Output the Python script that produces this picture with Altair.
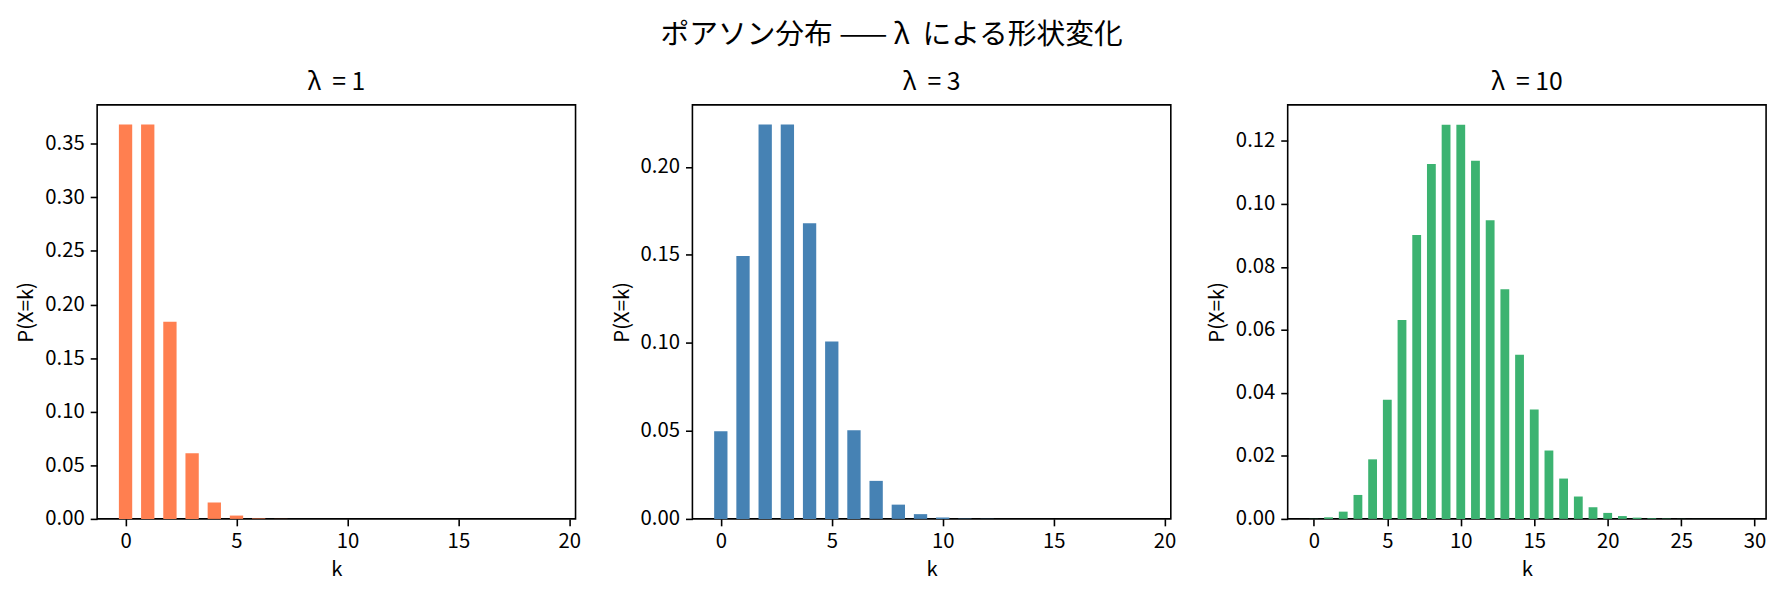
import altair as alt
import pandas as pd

# ---- data ----
k_20 = list(range(20))
k_30 = list(range(30))

p_lam1 = [0.3679, 0.3679, 0.1839, 0.0613, 0.0153, 0.0031, 0.0005, 0.0001,
          0.0, 0.0, 0.0, 0.0, 0.0, 0.0, 0.0, 0.0, 0.0, 0.0, 0.0, 0.0]
p_lam3 = [0.0498, 0.1494, 0.2240, 0.2240, 0.1680, 0.1008, 0.0504, 0.0216,
          0.0081, 0.0027, 0.0008, 0.0002, 0.0001, 0.0, 0.0, 0.0, 0.0, 0.0, 0.0, 0.0]
p_lam10 = [0.00005, 0.0005, 0.0023, 0.0076, 0.0189, 0.0378, 0.0631, 0.0901,
           0.1126, 0.1251, 0.1251, 0.1137, 0.0948, 0.0729, 0.0521, 0.0347,
           0.0217, 0.0128, 0.0071, 0.0037, 0.0019, 0.0009, 0.0004, 0.0002,
           0.0001, 0.00003, 0.00001, 0.0, 0.0, 0.0]

titles = ["λ\u00a0 = 1", "λ\u00a0 = 3", "λ\u00a0 = 10"]
colors = ["#FF7F50", "#4682B4", "#3CB371"]
x_domains = [[-1.28, 20.28], [-1.28, 20.28], [-1.78, 30.78]]
x_ticks = [[0, 5, 10, 15, 20], [0, 5, 10, 15, 20], [0, 5, 10, 15, 20, 25, 30]]
y_domains = [[0, 0.3863], [0, 0.2352], [0, 0.1314]]
y_ticks = [[0, 0.05, 0.10, 0.15, 0.20, 0.25, 0.30, 0.35],
           [0, 0.05, 0.10, 0.15, 0.20],
           [0, 0.02, 0.04, 0.06, 0.08, 0.10, 0.12]]

FONT = "Noto Sans CJK JP"
W, H = 483, 418

panels = []
for ks, ps, t, c, xd, xt, yd, yt in zip(
        [k_20, k_20, k_30], [p_lam1, p_lam3, p_lam10], titles, colors,
        x_domains, x_ticks, y_domains, y_ticks):
    df = pd.DataFrame({"k": ks, "p": ps})
    ch = alt.Chart(df).transform_calculate(
        k0="datum.k - 0.3", k1="datum.k + 0.3", base="0"
    ).mark_bar(color=c).encode(
        x=alt.X("k0:Q", title="k",
                scale=alt.Scale(domain=xd, nice=False, zero=False),
                axis=alt.Axis(values=xt, format="d")),
        x2="k1:Q",
        y=alt.Y("p:Q", title="P(X=k)",
                scale=alt.Scale(domain=yd, nice=False),
                axis=alt.Axis(values=yt, format=".2f")),
        y2="base:Q",
    ).properties(
        width=W, height=H,
        title=alt.TitleParams(t, fontSize=25, fontWeight="normal", font=FONT,
                              color="black", offset=10)
    )
    panels.append(ch)

chart = alt.hconcat(*panels, spacing=30).properties(
    title=alt.TitleParams("ポアソン分布 —— λ\u00a0 による形状変化", fontSize=29,
                          fontWeight="normal", font=FONT, color="black",
                          anchor="middle", offset=20),
    padding={"left": 8, "right": 8, "top": 10, "bottom": 8},
    background="white",
).configure_view(
    stroke="black", strokeWidth=1.6
).configure_axis(
    grid=False, domain=False,
    tickColor="black", tickWidth=1.6, tickSize=7,
    labelFont=FONT, labelFontSize=20.5, labelColor="black", labelPadding=6,
    titleFont=FONT, titleFontSize=20.5, titleColor="black",
    titleFontWeight="normal", titlePadding=8,
)

chart.save("out.html", embed_options={"renderer": "svg", "actions": False})
